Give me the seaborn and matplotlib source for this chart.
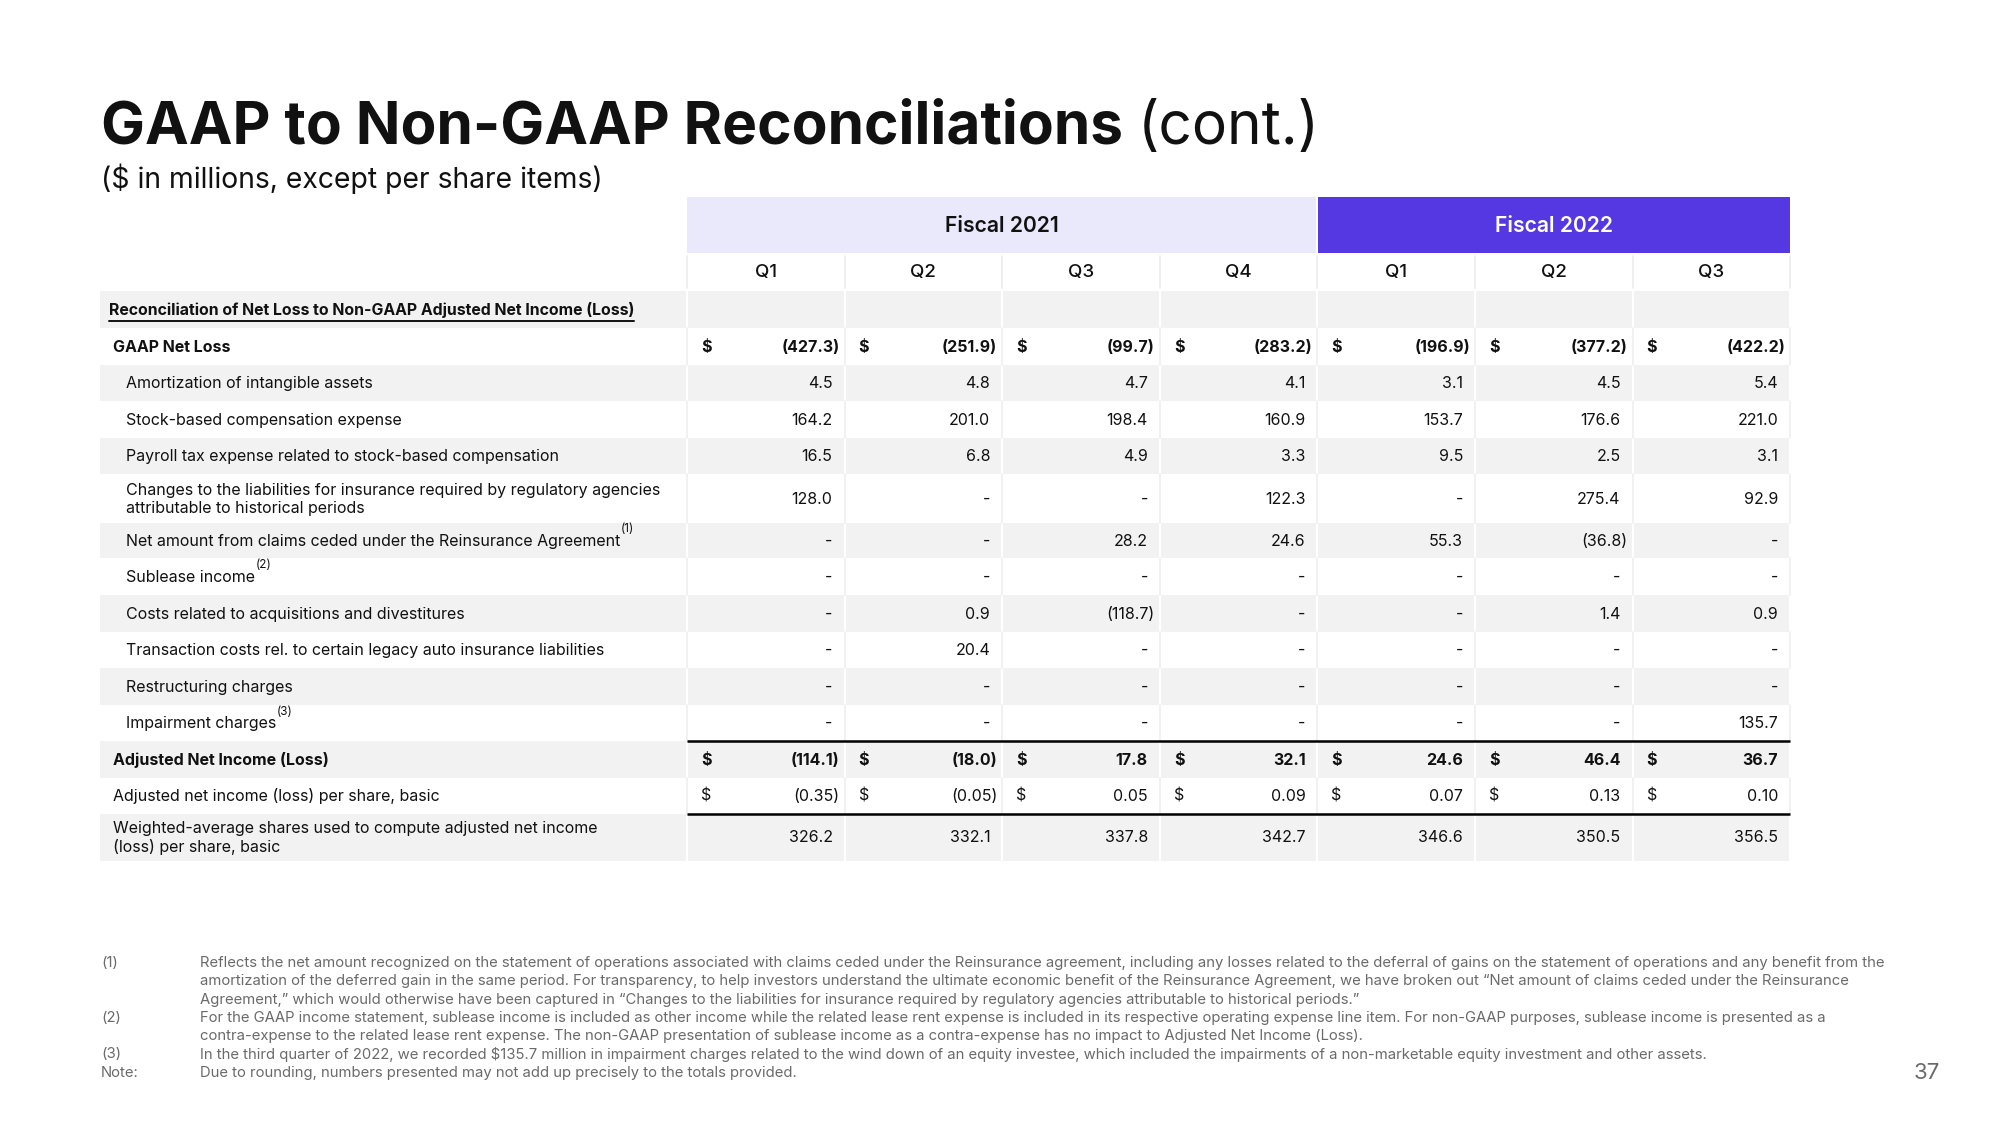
import matplotlib
matplotlib.use("Agg")
import matplotlib.pyplot as plt
import seaborn as sns
from matplotlib.patches import Rectangle

# ---- data ----
fiscal_years = ["Fiscal 2021", "Fiscal 2022"]
quarters = ["Q1", "Q2", "Q3", "Q4", "Q1", "Q2", "Q3"]
fiscal_span = [4, 3]  # quarters per fiscal year

gaap_net_loss = [-427.3, -251.9, -99.7, -283.2, -196.9, -377.2, -422.2]
amortization = [4.5, 4.8, 4.7, 4.1, 3.1, 4.5, 5.4]
stock_comp = [164.2, 201.0, 198.4, 160.9, 153.7, 176.6, 221.0]
payroll_tax = [16.5, 6.8, 4.9, 3.3, 9.5, 2.5, 3.1]
insurance_liab = [128.0, None, None, 122.3, None, 275.4, 92.9]
reinsurance = [None, None, 28.2, 24.6, 55.3, -36.8, None]
sublease = [None, None, None, None, None, None, None]
acquisitions = [None, 0.9, -118.7, None, None, 1.4, 0.9]
transaction_costs = [None, 20.4, None, None, None, None, None]
restructuring = [None, None, None, None, None, None, None]
impairment = [None, None, None, None, None, None, 135.7]
adj_net_income = [-114.1, -18.0, 17.8, 32.1, 24.6, 46.4, 36.7]
adj_eps = [-0.35, -0.05, 0.05, 0.09, 0.07, 0.13, 0.10]
wtd_shares = [326.2, 332.1, 337.8, 342.7, 346.6, 350.5, 356.5]

# (label, values, style, dollar sign, decimals, superscript, row height)
rows = [
    ("Reconciliation of Net Loss to Non-GAAP Adjusted Net Income (Loss)", None, "section", False, 1, "", 37),
    ("GAAP Net Loss", gaap_net_loss, "bold", True, 1, "", 36.5),
    ("Amortization of intangible assets", amortization, "indent", False, 1, "", 36.5),
    ("Stock-based compensation expense", stock_comp, "indent", False, 1, "", 36.5),
    ("Payroll tax expense related to stock-based compensation", payroll_tax, "indent", False, 1, "", 36),
    ("Changes to the liabilities for insurance required by regulatory agencies\nattributable to historical periods",
     insurance_liab, "indent", False, 1, "", 49),
    ("Net amount from claims ceded under the Reinsurance Agreement", reinsurance, "indent", False, 1, "(1)", 35.5),
    ("Sublease income", sublease, "indent", False, 1, "(2)", 37),
    ("Costs related to acquisitions and divestitures", acquisitions, "indent", False, 1, "", 36.5),
    ("Transaction costs rel. to certain legacy auto insurance liabilities", transaction_costs, "indent", False, 1, "", 36.5),
    ("Restructuring charges", restructuring, "indent", False, 1, "", 36.5),
    ("Impairment charges", impairment, "indent", False, 1, "(3)", 36.5),
    ("Adjusted Net Income (Loss)", adj_net_income, "bold", True, 1, "", 36.5),
    ("Adjusted net income (loss) per share, basic", adj_eps, "plain", True, 2, "", 36),
    ("Weighted-average shares used to compute adjusted net income\n(loss) per share, basic", wtd_shares, "plain", False, 1, "", 47),
]

footnotes = [
    ("(1)", ["Reflects the net amount recognized on the statement of operations associated with claims ceded under the Reinsurance agreement, including any losses related to the deferral of gains on the statement of operations and any benefit from the",
             "amortization of the deferred gain in the same period. For transparency, to help investors understand the ultimate economic benefit of the Reinsurance Agreement, we have broken out \u201cNet amount of claims ceded under the Reinsurance",
             "Agreement,\u201d which would otherwise have been captured in \u201cChanges to the liabilities for insurance required by regulatory agencies attributable to historical periods.\u201d"]),
    ("(2)", ["For the GAAP income statement, sublease income is included as other income while the related lease rent expense is included in its respective operating expense line item. For non-GAAP purposes, sublease income is presented as a",
             "contra-expense to the related lease rent expense. The non-GAAP presentation of sublease income as a contra-expense has no impact to Adjusted Net Income (Loss)."]),
    ("(3)", ["In the third quarter of 2022, we recorded $135.7 million in impairment charges related to the wind down of an equity investee, which included the impairments of a non-marketable equity investment and other assets."]),
    ("Note:", ["Due to rounding, numbers presented may not add up precisely to the totals provided."]),
]

# ---- style ----
sns.set_theme(style="white")
plt.rcParams["font.family"] = ["Inter", "DejaVu Sans"]
plt.rcParams["text.parse_math"] = False

GREY = "#f2f2f2"
LAVENDER = "#e9e9fb"
PURPLE = "#5538e1"
INK = "#111111"
NOTE = "#6a6a6a"


def fmt(v, dec):
    if v is None:
        return "-"
    s = f"{abs(v):.{dec}f}"
    return f"({s})" if v < 0 else s


fig = plt.figure(figsize=(20, 11.25), dpi=100)
ax = fig.add_axes([0, 0, 1, 1])
ax.set_xlim(0, 2000)
ax.set_ylim(1125, 0)
ax.axis("off")
renderer = fig.canvas.get_renderer()
inv = ax.transData.inverted()


def text_extent(t):
    bb = t.get_window_extent(renderer=renderer)
    (x0, y0), (x1, y1) = inv.transform([[bb.x0, bb.y0], [bb.x1, bb.y1]])
    return x0, x1, y0, y1


# title
t1 = ax.text(101, 128, "GAAP to Non-GAAP Reconciliations", fontsize=42.2, fontweight="bold",
             color=INK, va="center", ha="left")
_, tx1, _, _ = text_extent(t1)
ax.text(tx1 + 15, 128, "(cont.)", fontsize=42.2, color=INK, va="center", ha="left")
ax.text(101, 179, "($ in millions, except per share items)", fontsize=20.4, color=INK,
        va="center", ha="left")

# column geometry
label_left = 100
col_left = 687
col_w = 157.6
n_cols = len(quarters)
table_right = col_left + n_cols * col_w

# fiscal header
start = 0
for i, (fy, span) in enumerate(zip(fiscal_years, fiscal_span)):
    x0 = col_left + start * col_w
    fc = LAVENDER if i == 0 else PURPLE
    ax.add_patch(Rectangle((x0 + (1 if i else 0), 197), span * col_w - 1, 56, facecolor=fc, edgecolor="none"))
    ax.text(x0 + span * col_w / 2, 226, fy, fontsize=15.2, fontweight="semibold",
            color=INK if i == 0 else "white", ha="center", va="center")
    start += span

# quarter header
for j, q in enumerate(quarters):
    cx = col_left + (j + 0.5) * col_w
    ax.text(cx, 272, q, fontsize=13.5, fontweight="medium", color=INK, ha="center", va="center")
for j in range(n_cols + 1):
    ax.plot([col_left + j * col_w] * 2, [256, 288], color="#ececec", lw=1.2)

# body
y = 291
row_pos = []
for i, (label, vals, style, dollar, dec, sup, h) in enumerate(rows):
    top, bot = y, y + h
    mid = (top + bot) / 2
    row_pos.append((top, bot))
    grey = i % 2 == 0
    if grey:
        ax.add_patch(Rectangle((label_left, top), col_left - label_left - 1, h, facecolor=GREY, edgecolor="none"))
        for j in range(n_cols):
            ax.add_patch(Rectangle((col_left + j * col_w + 1, top), col_w - 2, h,
                                   facecolor=GREY, edgecolor="none"))
    else:
        for j in range(n_cols + 1):
            ax.plot([col_left + j * col_w] * 2, [top, bot], color="#efefef", lw=1.2)

    weight = "bold" if style in ("bold", "section") else "normal"
    lx = {"section": 109, "bold": 113, "plain": 113, "indent": 126}[style]
    fs = 11.4 if style == "section" else 11.5
    t = ax.text(lx, mid + 1, label, fontsize=fs, fontweight=weight, color=INK,
                ha="left", va="center", linespacing=1.25)
    x0, x1, y0, y1 = text_extent(t)
    if style == "section":
        ax.plot([x0, x1], [y0 + 2, y0 + 2], color=INK, lw=1.4)
    if sup:
        ax.text(x1 + 1, mid - 5, sup, fontsize=8.5, color=INK, ha="left", va="bottom")

    if vals is not None:
        for j, v in enumerate(vals):
            cl = col_left + j * col_w
            cr = cl + col_w
            s = fmt(v, dec)
            xr = cr - 5 if s.endswith(")") else cr - 12
            ax.text(xr, mid + 1, s, fontsize=11.5, fontweight=weight, color=INK, ha="right", va="center")
            if dollar:
                ax.text(cl + 14, mid + 1, "$", fontsize=11.5, fontweight=weight, color=INK,
                        ha="left", va="center")
    y = bot

# total rules above adjusted net income and below per share row
adj_top = row_pos[12][0]
eps_bot = row_pos[13][1]
ax.plot([col_left, table_right], [adj_top, adj_top], color="black", lw=1.8, solid_capstyle="butt")
ax.plot([col_left, table_right], [eps_bot, eps_bot], color="black", lw=1.8, solid_capstyle="butt")

# footnotes
fy = 963
for mark, lines in footnotes:
    ax.text(101, fy, mark, fontsize=10.7, color=NOTE, ha="left", va="center")
    for line in lines:
        ax.text(200, fy, line, fontsize=10.7, color=NOTE, ha="left", va="center")
        fy += 18.3

ax.text(1940, 1073, "37", fontsize=16, color=NOTE, ha="right", va="center")

fig.savefig("out.png", dpi=100, facecolor="white")
